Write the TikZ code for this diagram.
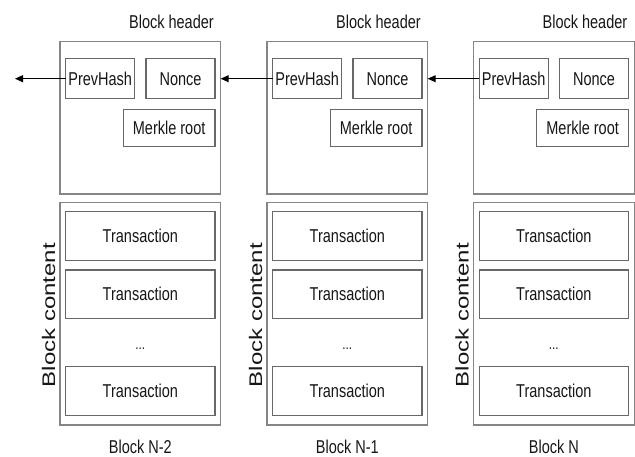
\documentclass[tikz,border=0pt]{standalone}
\usepackage{fontspec}
\setmainfont{Liberation Sans}
\usetikzlibrary{arrows.meta}
% horizontally narrowed text
\newcommand\narrowtxt[1]{\scalebox{0.78}[1]{#1}}
\definecolor{outerline}{HTML}{858585}
\definecolor{innerline}{HTML}{686868}
\definecolor{ink}{HTML}{161616}
\tikzset{
  frame/.style={draw=outerline, line width=1.3pt, inner sep=0pt, outer sep=0pt},
  cell/.style={draw=innerline, line width=1.2pt, inner sep=0pt, outer sep=0pt,
    text=ink, font=\fontsize{18.6}{20}\selectfont},
  lbl/.style={inner sep=0pt, text=ink, font=\fontsize{18.6}{20}\selectfont},
  sidelbl/.style={inner sep=0pt, text=ink, font=\fontsize{24}{26}\selectfont, rotate=90},
  link/.style={draw=black, line width=1pt, -{Triangle[length=8pt,width=7pt]}}
}
\begin{document}
\begin{tikzpicture}[x=1pt,y=-1pt]
\useasboundingbox (0,0) rectangle (635,456);
\foreach \x/\n/\lab in {60/a/Block N-2, 267/b/Block N-1, 473.5/c/Block N}{
  % block header
  \node[frame, minimum width=160.7pt, minimum height=152.3pt] (hdr-\n) at (\x+80.35,117.85) {};
  \node[lbl, anchor=east] (hl-\n) at (\x+154,21.7) {\narrowtxt{Block header}};
  \node[cell, minimum width=69pt, minimum height=40pt] (ph-\n) at (\x+40.2,78.7) {\narrowtxt{PrevHash}};
  \node[cell, minimum width=69pt, minimum height=40pt] (nc-\n) at (\x+120.5,78.7) {\narrowtxt{Nonce}};
  \node[cell, minimum width=91.7pt, minimum height=37.4pt] (mr-\n) at (\x+109.15,128) {\narrowtxt{Merkle root}};
  % block content
  \node[frame, minimum width=160.7pt, minimum height=222.3pt] (bc-\n) at (\x+80.35,313.85) {};
  \node[cell, minimum width=149.3pt, minimum height=49pt] (t1-\n) at (\x+80.35,236.2) {\narrowtxt{Transaction}};
  \node[cell, minimum width=149.3pt, minimum height=48.3pt] (t2-\n) at (\x+80.35,294.15) {\narrowtxt{Transaction}};
  \node[lbl, font=\fontsize{15}{16}\selectfont] (dt-\n) at (\x+80.35,349) {\narrowtxt{...}};
  \node[cell, minimum width=149.3pt, minimum height=49pt] (t3-\n) at (\x+80.35,391.2) {\narrowtxt{Transaction}};
  \node[sidelbl] (cl-\n) at (\x-11.5,315) {\scalebox{1}[0.76]{Block content}};
  \node[lbl] (bl-\n) at (\x+80.35,446.7) {\narrowtxt{\lab}};
}
\coordinate (end) at (15,78.7);
\draw[link] (ph-c.west) -- (ph-c.west -| hdr-b.east);
\draw[link] (ph-b.west) -- (ph-b.west -| hdr-a.east);
\draw[link] (ph-a.west) -- (end);
\end{tikzpicture}
\end{document}
